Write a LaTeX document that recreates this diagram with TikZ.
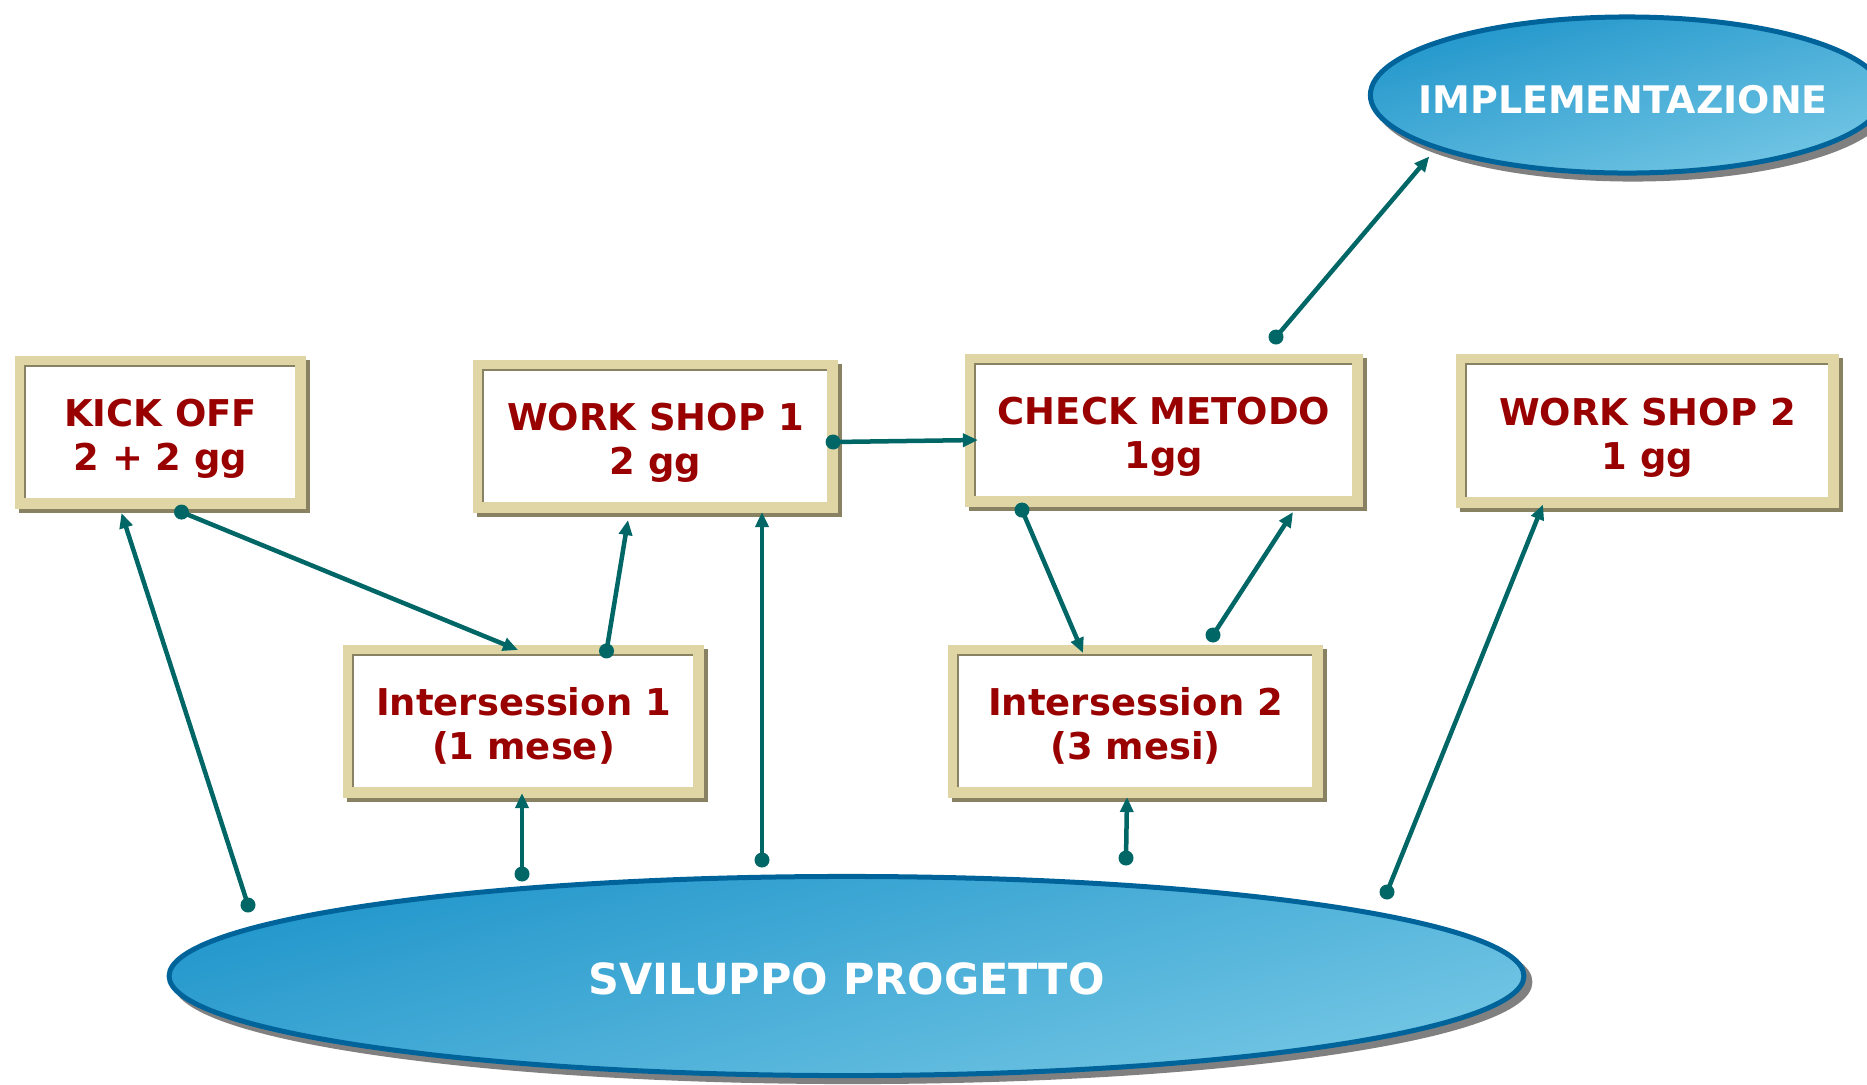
\documentclass[tikz,border=0pt]{standalone}
\usepackage{fontspec}
\setmainfont{DejaVu Sans}
\usetikzlibrary{arrows.meta,shapes.geometric}

\definecolor{framebeige}{RGB}{223,213,165}
\definecolor{frameshade}{RGB}{136,130,98}
\definecolor{boxred}{RGB}{153,0,0}
\definecolor{linkcol}{RGB}{0,102,102}
\definecolor{ovalrim}{RGB}{0,100,155}
\definecolor{ovaltop}{RGB}{33,150,203}
\definecolor{ovalbot}{RGB}{115,198,228}
\definecolor{ovalshadow}{RGB}{128,128,128}

\tikzset{
  box/.style={rectangle, draw=framebeige, line width=0.11cm, fill=white,
    preaction={draw=frameshade, line width=0.11cm, transform canvas={xshift=0.04cm, yshift=-0.04cm}},
    minimum width=#1, minimum height=1.42cm, inner sep=0pt, align=center,
    text height=0.85cm, text depth=0.09cm, text=boxred,
    font=\bfseries\fontsize{10.5}{12.5}\selectfont},
  oval/.style={ellipse, draw=ovalrim, line width=0.05cm,
    preaction={draw=ovalshadow, fill=ovalshadow, line width=0.05cm, transform canvas={xshift=0.06cm, yshift=-0.06cm}},
    top color=ovaltop, bottom color=ovalbot, shading angle=15,
    inner sep=0pt},
  ovaltext/.style={text=white, inner sep=0pt, font=\bfseries\fontsize{#1}{14}\selectfont},
  link/.style={draw=linkcol, line width=0.045cm, -{Triangle[length=0.15cm,width=0.13cm]}},
}

\begin{document}
\begin{tikzpicture}[x=0.01cm,y=-0.01cm]
  \useasboundingbox (0,0) rectangle (1867,1084);
  \clip (0,0) rectangle (1867,1084);

  % ovals
  \node[oval, minimum width=13.54cm, minimum height=1.99cm,
    label={[name=devtext, ovaltext=12.2, yshift=-0.03cm]center:SVILUPPO PROGETTO}] (dev) at (846.5,976) {};
  \node[oval, minimum width=5.13cm, minimum height=1.56cm,
    label={[name=impltext, ovaltext=10.8, xshift=-0.04cm, yshift=-0.05cm]center:IMPLEMENTAZIONE}] (impl) at (1627,95) {};

  % boxes
  \node[box=2.80cm] (kick) at (160.5,432.5) {KICK OFF\\2 + 2 gg};
  \node[box=3.54cm] (ws1) at (655.5,436.5) {WORK SHOP 1\\2 gg};
  \node[box=3.87cm] (check) at (1164,430.5) {CHECK METODO\\1gg};
  \node[box=3.72cm] (ws2) at (1647.5,431) {WORK SHOP 2\\1 gg};
  \node[box=3.50cm] (int1) at (523.5,721.5) {Intersession 1\\(1 mese)};
  \node[box=3.64cm] (int2) at (1135.5,721.5) {Intersession 2\\(3 mesi)};

  % dark inner edge of the frames
  \foreach \b in {kick,ws1,check,ws2,int1,int2}
    \draw[frameshade, line width=0.02cm] ([shift={(10,-11)}]\b.south west) -- ([shift={(10,10)}]\b.north west) -- ([shift={(-11,10)}]\b.north east);

  % loose ends
  \coordinate (s1) at (248,905);
  \coordinate (s4) at (762,860);
  \coordinate (s5) at (522,874);
  \coordinate (s8) at (1213,635);
  \coordinate (s9) at (1126,858);
  \coordinate (s10) at (1276,337);
  \coordinate (s11) at (1387,892);
  \coordinate (s2) at ([shift={(21,3)}]kick.south);
  \coordinate (s3) at ([shift={(83,6)}]int1.north);
  \coordinate (s6) at ([shift={(-5,5.5)}]ws1.east);
  \coordinate (s7) at ([shift={(-142,3)}]check.south);

  % connectors
  \draw[link] (s1) -- ([shift={(-39,4)}]kick.south);
  \draw[link] (s2) -- ([shift={(-5.5,5)}]int1.north);
  \draw[link] (s3) -- ([shift={(-27.5,7)}]ws1.south);
  \draw[link] (s4) -- ([shift={(106.5,-1)}]ws1.south);
  \draw[link] (s5) -- ([shift={(-1.5,-5)}]int1.south);
  \draw[link] (s6) -- ([shift={(13,9.5)}]check.west);
  \draw[link] (s7) -- ([shift={(-52.5,8)}]int2.north);
  \draw[link] (s8) -- ([shift={(129,5)}]check.south);
  \draw[link] (s9) -- ([shift={(-8.5,-1)}]int2.south);
  \draw[link] (s10) -- ([shift={(-13,5)}]impl.197);
  \draw[link] (s11) -- ([shift={(-104.5,-3)}]ws2.south);

  \foreach \s in {s1,s2,s3,s4,s5,s6,s7,s8,s9,s10,s11}
    \fill[linkcol] (\s) circle (0.075cm);
\end{tikzpicture}
\end{document}
